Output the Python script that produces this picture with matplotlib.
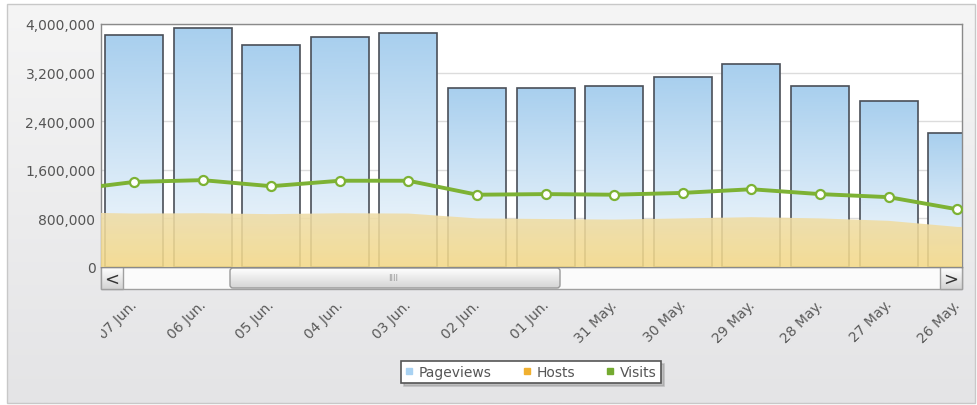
import numpy as np
import matplotlib
matplotlib.use("Agg")
import matplotlib.pyplot as plt
from matplotlib.patches import Rectangle, FancyBboxPatch, Polygon
from matplotlib.lines import Line2D
from matplotlib.colors import LinearSegmentedColormap
import matplotlib.transforms as mtransforms

# data (newest first)
dates = ["07 Jun.", "06 Jun.", "05 Jun.", "04 Jun.", "03 Jun.", "02 Jun.", "01 Jun.",
         "31 May.", "30 May.", "29 May.", "28 May.", "27 May.", "26 May."]
pageviews = [3820000, 3930000, 3650000, 3790000, 3850000, 2950000, 2950000,
             2980000, 3130000, 3340000, 2980000, 2730000, 2210000]
hosts = [880000, 885000, 870000, 885000, 880000, 800000, 790000,
         780000, 800000, 820000, 800000, 760000, 660000]
visits = [1400000, 1430000, 1330000, 1420000, 1420000, 1190000, 1200000,
          1190000, 1220000, 1280000, 1200000, 1150000, 950000]
# off-screen neighbours (08 Jun. on the left, 25 May. on the right)
visits_prev = 1260000
hosts_prev = 900000
hosts_next = 630000
yticks = [0, 800000, 1600000, 2400000, 3200000, 4000000]

W, H = 977, 406
fig = plt.figure(figsize=(W / 100, H / 100), dpi=100)
fig.patch.set_facecolor("white")

# background panel in pixel coordinates
bg = fig.add_axes([0, 0, 1, 1], zorder=0)
bg.axis("off")
grad = np.linspace(0, 1, 256).reshape(-1, 1)
panel_cmap = LinearSegmentedColormap.from_list("panel", ["#f5f5f5", "#e4e4e6"])
bg.imshow(grad, cmap=panel_cmap, extent=(7, 975, 404, 5), aspect="auto", zorder=0)
bg.add_patch(Rectangle((7, 5), 968, 399, fill=False, ec="#c8c8c8", lw=1, zorder=1))

# main plot
L, R, T, B = 101, 962, 25, 268
ax = fig.add_axes([L / W, 1 - B / H, (R - L) / W, (B - T) / H], zorder=2)
ax.set_facecolor("white")
x = np.arange(len(dates))
xmin, xmax = -0.48, 12.07
for v in yticks:
    ax.axhline(v, color="#dcdcdc", lw=1, zorder=0)

bar_cmap = LinearSegmentedColormap.from_list("bars", ["#a8cfee", "#f6fafd"])
bw = 0.845
for xi, pv in zip(x, pageviews):
    x0, x1 = max(xi - bw / 2, xmin), min(xi + bw / 2, xmax)
    im = ax.imshow(grad, cmap=bar_cmap, extent=(x0, x1, 0, pv),
                   aspect="auto", zorder=1)
    r = Rectangle((xi - bw / 2, 0), bw, pv, fill=False, ec="#4a4f58", lw=1.2, zorder=2)
    ax.add_patch(r)
    im.set_clip_path(r)

# hosts area
hx = np.concatenate([[-1], x, [13]])
hy = np.concatenate([[hosts_prev], hosts, [hosts_next]])
poly = Polygon(np.column_stack([np.concatenate([hx, hx[::-1]]),
                                np.concatenate([hy, np.zeros_like(hy)])]),
               closed=True, fc="none", ec="none")
ax.add_patch(poly)
host_cmap = LinearSegmentedColormap.from_list("hosts", ["#efdda8", "#f4d988"])
him = ax.imshow(grad, cmap=host_cmap, extent=(xmin, xmax, 0, max(hy)), aspect="auto",
                alpha=0.88, zorder=3)
him.set_clip_path(poly)

# visits line
vx = np.concatenate([[-1], x])
vy = np.concatenate([[visits_prev], visits])
ax.plot(vx, vy, color="#7db234", lw=2.8, zorder=4, solid_capstyle="round")
ax.plot(x, visits, ls="none", marker="o", ms=6.5, mfc="white", mec="#7db234",
        mew=1.6, zorder=5)
ax.set_xlim(xmin, xmax)
ax.set_ylim(0, 4000000)

ax.set_xticks([])
ax.set_yticks(yticks)
ax.set_yticklabels([f"{v:,}" for v in yticks], fontsize=10, color="#555555")
ax.tick_params(axis="y", length=0, pad=4)
for s in ax.spines.values():
    s.set_color("#8a8a8a")
    s.set_linewidth(1)

# scrollbar
sb_top, sb_bot = 268, 290
bg.add_patch(Rectangle((L, sb_top), R - L, sb_bot - sb_top, fc="#fbfbfb", ec="#a0a0a0",
                       lw=1, zorder=2))
btn_cmap = LinearSegmentedColormap.from_list("btn", ["#ffffff", "#d4d4d4"])
for bx0, sym in [(L, "<"), (R - 22, ">")]:
    bg.imshow(grad, cmap=btn_cmap, extent=(bx0, bx0 + 22, sb_bot, sb_top),
              aspect="auto", zorder=3)
    bg.add_patch(Rectangle((bx0, sb_top), 22, sb_bot - sb_top, fill=False,
                           ec="#a0a0a0", lw=1, zorder=4))
    bg.text(bx0 + 11, (sb_top + sb_bot) / 2 + 1, sym, ha="center", va="center",
            fontsize=13, color="#333333", zorder=5)
thumb = FancyBboxPatch((230, sb_top + 1), 330, sb_bot - sb_top - 2,
                       boxstyle="round,pad=0,rounding_size=3", fc="none",
                       ec="#9a9a9a", lw=1, zorder=4)
bg.add_patch(thumb)
tim = bg.imshow(grad, cmap=btn_cmap, extent=(230, 560, sb_bot - 1, sb_top + 1),
                aspect="auto", zorder=3)
tim.set_clip_path(thumb)
bg.text(393, (sb_top + sb_bot) / 2, "IIII", ha="center", va="center",
        fontsize=6, color="#999999", zorder=5)
bg.set_xlim(0, W)
bg.set_ylim(H, 0)

# rotated date labels, clipped at the plot's left edge
trans = mtransforms.blended_transform_factory(ax.transData, bg.transData)
trans = trans + mtransforms.ScaledTranslation(-4 / 100, 0, fig.dpi_scale_trans)
clip = Rectangle((L, 0), W - L, H, transform=bg.transData)
for xi, d in zip(x, dates):
    t = bg.text(xi, 298, d, transform=trans, rotation=45, ha="right", va="top",
                rotation_mode="anchor", fontsize=10, color="#5a5a5a", zorder=5)
    t.set_clip_on(True)
    t.set_clip_path(clip)

# legend
handles = [Line2D([], [], ls="none", marker="s", ms=4.5, mfc=c, mec=c)
           for c in ["#a9d2f2", "#f0b030", "#74aa30"]]
leg = fig.legend(handles, ["Pageviews", "Hosts", "Visits"], loc="center",
                 bbox_to_anchor=(531 / W, 1 - 373 / H), ncol=3, frameon=True,
                 fancybox=False, shadow={"color": "#9a9a9a", "alpha": 0.5},
                 handlelength=0.5, handletextpad=0.45, columnspacing=2.3,
                 fontsize=10, borderpad=0.3, borderaxespad=0)
leg.get_frame().set_edgecolor("#555555")
leg.get_frame().set_linewidth(1.2)
for t in leg.get_texts():
    t.set_color("#555555")

fig.savefig("out.png", dpi=100)
